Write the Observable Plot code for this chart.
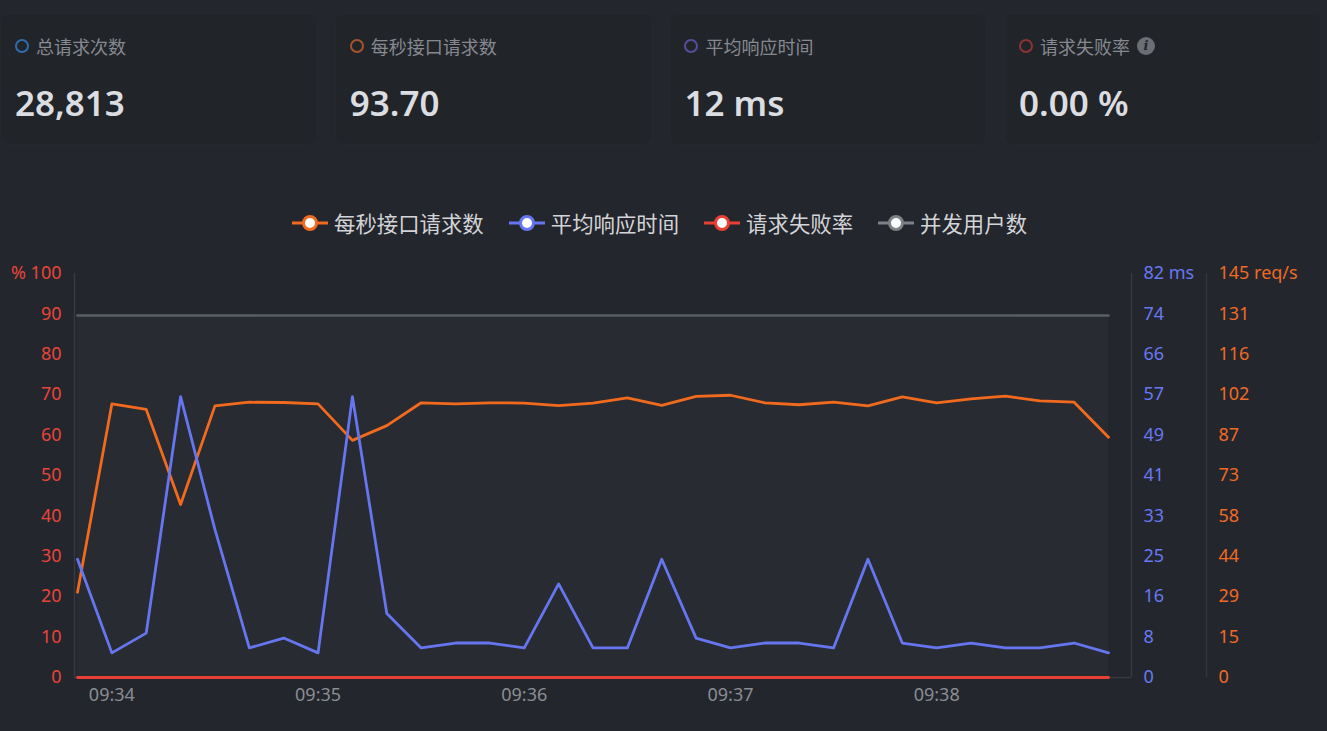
<!DOCTYPE html>
<html><head><meta charset="utf-8">
<script src="https://cdn.jsdelivr.net/npm/d3@7"></script>
<script src="https://cdn.jsdelivr.net/npm/@observablehq/plot@0.6"></script>
<style>
body{margin:0;background:#23262d;width:1327px;height:731px;overflow:hidden;position:relative;font-family:"Noto Sans CJK SC","Noto Sans",sans-serif}
.card{position:absolute;top:13px;width:318px;height:132px;background:#212429;border:1px solid #25282f;border-radius:9px;box-sizing:border-box}
.card .dot{position:absolute;left:14px;top:25px;width:14px;height:14px;border-radius:50%;border:2.5px solid;box-sizing:border-box}
.card .lab{position:absolute;left:35px;top:20px;font-size:18px;line-height:24px;color:#868990;display:flex;align-items:center}
.card .val{position:absolute;left:14px;top:68px;font-size:35px;line-height:42px;font-weight:600;color:#dcdde0;font-family:"Noto Sans","Noto Sans CJK SC",sans-serif}
.info{display:inline-block;width:18px;height:18px;border-radius:50%;background:#6b6e74;color:#23262d;font-size:13px;line-height:18px;text-align:center;font-style:italic;font-weight:700;margin-left:7px;font-family:"DejaVu Serif",serif}
#legend{position:absolute;top:209px;left:292px;display:flex;align-items:center;font-size:21.4px;color:#d3d4d7;line-height:28px}
#legend .it{display:flex;align-items:center;margin-right:25px}
#legend svg{margin-right:6px}
#chart{position:absolute;top:260px;left:0}
</style></head>
<body>
<div id="cards"></div>
<div id="legend"></div>
<div id="chart"></div>
<script>
// ---- data ----
const statLabels = ["总请求次数", "每秒接口请求数", "平均响应时间", "请求失败率"];
const statValues = ["28,813", "93.70", "12 ms", "0.00 %"];
const statColors = ["#2f6cae", "#a5532b", "#5b4b9c", "#8c3434"];

const seriesNames = ["每秒接口请求数", "平均响应时间", "请求失败率", "并发用户数"];
const seriesColors = ["#f26a1e", "#6676f0", "#ea3f35", "#7e8187"];

const timeLabels = ["09:33:50","09:34:00","09:34:10","09:34:20","09:34:30","09:34:40","09:34:50",
  "09:35:00","09:35:10","09:35:20","09:35:30","09:35:40","09:35:50",
  "09:36:00","09:36:10","09:36:20","09:36:30","09:36:40","09:36:50",
  "09:37:00","09:37:10","09:37:20","09:37:30","09:37:40","09:37:50",
  "09:38:00","09:38:10","09:38:20","09:38:30","09:38:40","09:38:50"];
const reqPerSec = [30.6,98.2,96.2,62.1,97.5,98.8,98.7,98.2,85.1,90.4,98.6,98.2,98.6,98.5,97.6,98.5,
  100.4,97.7,100.9,101.3,98.6,97.9,98.8,97.5,100.7,98.6,100.0,101.0,99.3,98.8,86.2];
const avgMs = [24,5,9,57,30,6,8,5,57,13,6,7,7,6,19,6,6,24,8,6,7,7,6,24,7,6,7,6,6,7,5];
const errorRate = [0,0,0,0,0,0,0,0,0,0,0,0,0,0,0,0,0,0,0,0,0,0,0,0,0,0,0,0,0,0,0];
const users = [50,50,50,50,50,50,50,50,50,50,50,50,50,50,50,50,50,50,50,50,50,50,50,50,50,50,50,50,50,50,50];

const pctTicks = [0,10,20,30,40,50,60,70,80,90,100];
const msTicks = [0,8,16,25,33,41,49,57,66,74,82];
const reqTicks = [0,15,29,44,58,73,87,102,116,131,145];
const xTickLabels = ["09:34","09:35","09:36","09:37","09:38"];
const msMax = 82, reqMax = 145, usersMax = 55.8;

// ---- cards ----
const cards = document.getElementById("cards");
statLabels.forEach((l, i) => {
  const c = document.createElement("div");
  c.className = "card";
  c.style.left = (i * 334.7) + "px";
  c.innerHTML = `<div class="dot" style="border-color:${statColors[i]}"></div>
    <div class="lab">${l}${i === 3 ? '<span class="info">i</span>' : ''}</div>
    <div class="val">${statValues[i]}</div>`;
  cards.appendChild(c);
});

// ---- legend ----
const legend = document.getElementById("legend");
seriesNames.forEach((n, i) => {
  const it = document.createElement("div");
  it.className = "it";
  it.innerHTML = `<svg width="36" height="20"><line x1="0" x2="36" y1="10" y2="10" stroke="${seriesColors[i]}" stroke-width="3"/><circle cx="18" cy="10" r="6.5" fill="#fff" stroke="${seriesColors[i]}" stroke-width="3"/></svg><span>${n}</span>`;
  legend.appendChild(it);
});

// ---- chart ----
const parse = s => new Date(Date.UTC(2024, 0, 1, +s.slice(0,2), +s.slice(3,5), +s.slice(6,8)));
const data = timeLabels.map((t, i) => ({
  t: parse(t), req: reqPerSec[i], ms: avgMs[i], err: errorRate[i], users: users[i]
}));
const t0 = data[0].t, t1 = data[data.length - 1].t;
const xTicks = xTickLabels.map(s => parse(s + ":00"));
const axisFont = {fontSize: "18px", label: null};

const plot = Plot.plot({
  width: 1327,
  height: 471,
  marginTop: 13,
  marginBottom: 54,
  marginLeft: 77,
  marginRight: 219,
  style: {background: "transparent", fontFamily: "'Noto Sans','Noto Sans CJK SC',sans-serif", fontSize: "18px", overflow: "visible"},
  x: {type: "utc", domain: [t0, t1], label: null},
  y: {domain: [0, 100], label: null},
  marks: [
    Plot.areaY(data, {x: "t", y: d => d.users * 100 / usersMax, fill: "#ffffff", fillOpacity: 0.022}),
    Plot.lineY(data, {x: "t", y: d => d.users * 100 / usersMax, stroke: "#595d66", strokeWidth: 2.6}),
    Plot.ruleX([t0], {dx: -3, stroke: "#363a42", strokeWidth: 1.5}),
    Plot.ruleX([t1], {dx: 23, stroke: "#363a42", strokeWidth: 1.5}),
    Plot.ruleX([t1], {dx: 98, stroke: "#30343b", strokeWidth: 1.5}),
    Plot.ruleY([0], {insetLeft: -3, insetRight: -23, stroke: "#363a42", strokeWidth: 1.5}),
    Plot.lineY(data, {x: "t", y: d => d.req * 100 / reqMax, stroke: seriesColors[0], strokeWidth: 2.8}),
    Plot.lineY(data, {x: "t", y: d => d.ms * 100 / msMax, stroke: seriesColors[1], strokeWidth: 2.8}),
    Plot.lineY(data, {x: "t", y: "err", stroke: seriesColors[2], strokeWidth: 2.8}),
    Plot.axisY({anchor: "left", ticks: pctTicks, tickSize: 0, tickPadding: 16, fill: "#e8453a",
      tickFormat: d => d === 100 ? "% 100" : String(d), ...axisFont}),
    Plot.axisY({anchor: "right", ticks: pctTicks, tickSize: 0, tickPadding: 35, fill: "#6878f2",
      tickFormat: d => { const k = pctTicks.indexOf(d); return msTicks[k] + (d === 100 ? " ms" : ""); }, ...axisFont}),
    Plot.axisY({anchor: "right", ticks: pctTicks, tickSize: 0, tickPadding: 110, fill: "#f06a24",
      tickFormat: d => { const k = pctTicks.indexOf(d); return reqTicks[k] + (d === 100 ? " req/s" : ""); }, ...axisFont}),
    Plot.axisX({ticks: xTicks, tickSize: 0, tickPadding: 11, fill: "#8a8d93",
      tickFormat: d => xTickLabels[xTicks.findIndex(v => +v === +d)], ...axisFont})
  ]
});
document.getElementById("chart").appendChild(plot);
</script>
</body></html>
